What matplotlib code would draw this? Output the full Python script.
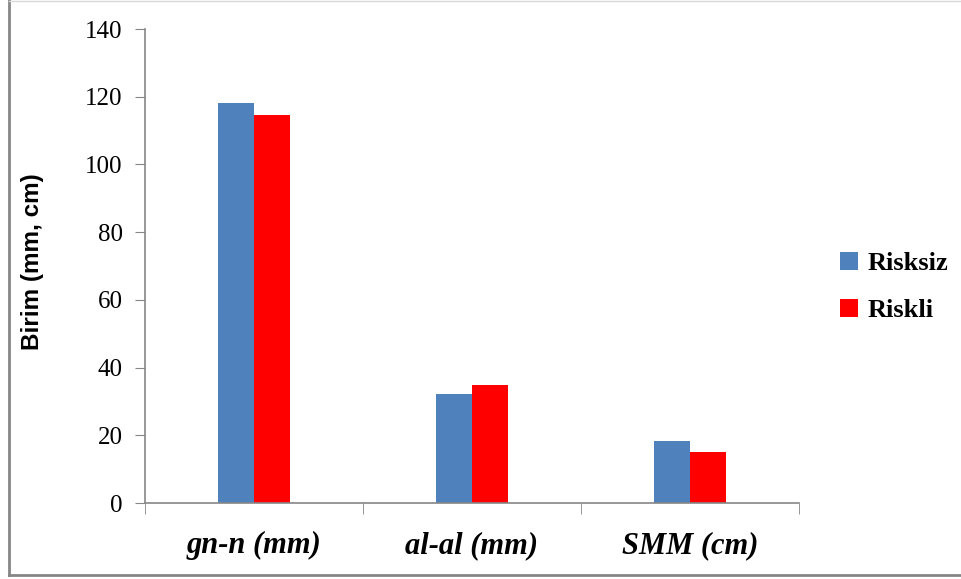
import matplotlib.pyplot as plt
import numpy as np
from matplotlib.lines import Line2D

categories = ["gn-n (mm)", "al-al (mm)", "SMM (cm)"]
risksiz = [118.0, 32.2, 18.2]
riskli = [114.6, 34.8, 15.1]
series_names = ["Risksiz", "Riskli"]
y_ticks = [0, 20, 40, 60, 80, 100, 120, 140]

blue = "#4F81BD"
red = "#FF0000"
grey = "#868686"

fig = plt.figure(figsize=(9.61, 5.79), dpi=100)
ax = fig.add_axes([145 / 961, 76 / 579, 654 / 961, 474 / 579])

x = np.arange(len(categories))
w = 0.163
b1 = ax.bar(x - w / 2, risksiz, width=w, color=blue, label=series_names[0])
b2 = ax.bar(x + w / 2, riskli, width=w, color=red, label=series_names[1])

ax.set_xlim(-0.5, len(categories) - 0.5)
ax.set_ylim(0, 140)
ax.set_yticks(y_ticks)
ax.set_yticklabels([str(v) for v in y_ticks], fontfamily="Liberation Serif", fontsize=18)
ax.tick_params(axis="y", length=7, color=grey, pad=9)

ax.set_xticks(x)
ax.set_xticklabels(categories, fontfamily="Liberation Serif", fontsize=22,
                   fontweight="bold", fontstyle="italic")
ax.tick_params(axis="x", which="major", length=0, pad=20)
ax.set_xticks(np.arange(-0.5, len(categories)), minor=True)
ax.tick_params(axis="x", which="minor", length=8, color=grey, direction="out")

for s in ["top", "right"]:
    ax.spines[s].set_visible(False)
for s in ["left", "bottom"]:
    ax.spines[s].set_color(grey)
    ax.spines[s].set_linewidth(1.2)

fig.text(33 / 961, 1 - 262 / 579, "Birim (mm, cm)", rotation=90, ha="center", va="center",
         fontfamily="Liberation Sans", fontweight="bold", fontsize=17.5)

ax.legend(handles=[b1, b2], loc="center left", bbox_to_anchor=(816 / 961, 1 - 287 / 579),
          bbox_transform=fig.transFigure, frameon=False,
          prop={"family": "Liberation Serif", "weight": "bold", "size": 19},
          handlelength=0.7, handleheight=0.7, handletextpad=0.35, labelspacing=0.9)

# outer frame of the chart area
fig.add_artist(Line2D([8.5 / 961, 8.5 / 961], [4 / 579, 1], transform=fig.transFigure,
                      color=grey, lw=2))
fig.add_artist(Line2D([8.5 / 961, 1], [4 / 579, 4 / 579], transform=fig.transFigure,
                      color=grey, lw=2))
fig.add_artist(Line2D([8.5 / 961, 1], [578.5 / 579, 578.5 / 579], transform=fig.transFigure,
                      color="#d9d9d9", lw=1))

fig.savefig("out.png", dpi=100)
